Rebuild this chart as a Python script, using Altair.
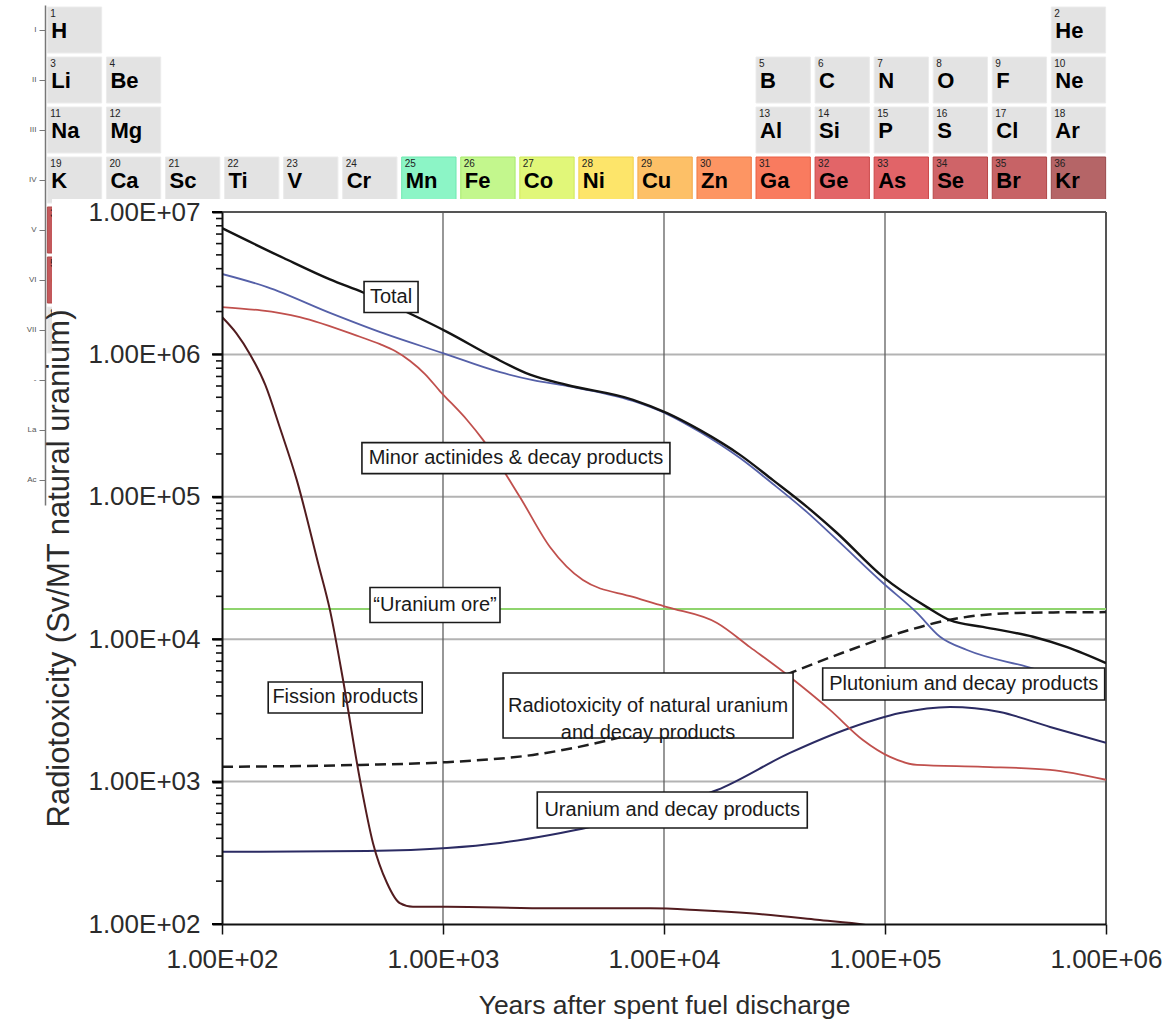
import altair as alt
import pandas as pd

FONT = "Liberation Sans"

# ---------------- radiotoxicity curves (years, Sv / MT natural uranium) ----------------
total_years = [100, 190, 308, 435, 731, 1042, 1683, 2477, 3640, 7244, 10330, 14550, 22080,
               31120, 44360, 60670, 97950, 154900, 196800, 277300, 467700, 666800, 1000000]
total_vals = [7.7e6, 4.75e6, 3.36e6, 2.72e6, 1.89e6, 1.44e6, 9.6e5, 7.2e5, 6.1e5, 4.8e5, 3.87e5,
              2.94e5, 1.97e5, 1.31e5, 8.5e4, 5.57e4, 2.74e4, 1.68e4, 1.36e4, 1.22e4, 1.04e4,
              8.8e3, 6.8e3]

pu_years = [100, 160, 310, 536, 1000, 1811, 2553, 3640, 7244, 10330, 14550, 22080, 31120,
            44360, 60670, 97950, 139600, 177400, 235000, 440000, 847000]
pu_vals = [3.67e6, 2.97e6, 1.95e6, 1.41e6, 1.02e6, 7.5e5, 6.6e5, 6.0e5, 4.71e5, 3.81e5, 2.85e5,
           1.87e5, 1.23e5, 7.8e4, 4.98e4, 2.48e4, 1.53e4, 1.04e4, 8.4e3, 6.4e3, 4.8e3]

ma_years = [100, 225, 421, 519, 607, 710, 829, 968, 1285, 1517, 2228, 3048, 4295, 7244, 10330,
            17380, 24490, 37150, 56360, 79430, 105400, 139600, 277300, 558500, 1000000]
ma_vals = [2.15e6, 1.83e6, 1.33e6, 1.18e6, 1.057e6, 9.0e5, 7.28e5, 5.53e5, 3.46e5, 2.51e5,
           9.97e4, 4.44e4, 2.6e4, 1.98e4, 1.68e4, 1.3e4, 8.8e3, 5.43e3, 3.19e3, 1.96e3, 1.49e3,
           1.31e3, 1.27e3, 1.21e3, 1.03e3]

fp_years = [100, 116, 134, 157, 183, 218, 272, 308, 353, 421, 482, 558, 638, 731, 1042, 3048,
            8650, 14550, 24490, 49200, 83000, 94800]
fp_vals = [1.83e6, 1.41e6, 1.0e6, 6.1e5, 3.04e5, 1.31e5, 3.43e4, 1.6e4, 5.17e3, 1.03e3, 371,
           194, 140, 132, 132, 129, 129, 125, 119, 107, 98, 94]

u_years = [100, 453, 1042, 1811, 3048, 4624, 8650, 17380, 37150, 69500, 117000, 197000, 331000,
           558500, 1000000]
u_vals = [321, 326, 342, 371, 422, 480, 632, 873, 1590, 2380, 3030, 3340, 3080, 2420, 1870]

nu_years = [100, 421, 1042, 2553, 6124, 14550, 38370, 69500, 117000, 197000, 396000, 1000000]
nu_vals = [1270, 1310, 1370, 1540, 2020, 3080, 5890, 8400, 11100, 13700, 15300, 15500]

uranium_ore = 16300

x_ticks = [100, 1000, 10000, 100000, 1000000]
y_major_ticks = [10 ** k for k in range(2, 8)]
y_minor_ticks = [m * 10 ** k for k in range(2, 7) for m in range(2, 10)]
grid_h_vals = [1e3, 1e4, 1e5, 1e6]
grid_v_vals = [1e3, 1e4, 1e5]

# annotation labels: text and anchor (year, value)
ann_labels = ["Total", "Minor actinides & decay products", "\u201cUranium ore\u201d",
              "Fission products", "Radiotoxicity of natural uranium\nand decay products",
              "Plutonium and decay products", "Uranium and decay products"]
ann_years = [582, 2138, 920, 361, 8470, 227000, 10900]
ann_vals = [2.53e6, 1.87e5, 1.74e4, 3.9e3, 3.42e3, 4.85e3, 632]
# box sizes in pixels (style)
ann_box = [(54, 31), (308, 31), (130, 35), (154, 31), (290, 65), (282, 32), (270, 36)]

# ---------------- periodic table overlay ----------------
periods = ["I", "II", "III", "IV", "V", "VI", "VII", "-", "La", "Ac"]
el_symbols = ["H", "He", "Li", "Be", "B", "C", "N", "O", "F", "Ne",
              "Na", "Mg", "Al", "Si", "P", "S", "Cl", "Ar",
              "K", "Ca", "Sc", "Ti", "V", "Cr", "Mn", "Fe", "Co", "Ni", "Cu", "Zn",
              "Ga", "Ge", "As", "Se", "Br", "Kr", "Rb", "Cs", "Fr"]
el_numbers = [1, 2, 3, 4, 5, 6, 7, 8, 9, 10, 11, 12, 13, 14, 15, 16, 17, 18,
              19, 20, 21, 22, 23, 24, 25, 26, 27, 28, 29, 30, 31, 32, 33, 34, 35, 36, 37, 55, 87]
el_cols = [1, 18, 1, 2, 13, 14, 15, 16, 17, 18, 1, 2, 13, 14, 15, 16, 17, 18,
           1, 2, 3, 4, 5, 6, 7, 8, 9, 10, 11, 12, 13, 14, 15, 16, 17, 18, 1, 1, 1]
el_periods = ["I", "I"] + ["II"] * 8 + ["III"] * 8 + ["IV"] * 18 + ["V", "VI", "VII"]

cell_colors = {
    "Mn": ("#8cf5c6", "#6fe8b0"), "Fe": ("#c3f78d", "#a8ea6c"), "Co": ("#e1f779", "#cfe85c"),
    "Ni": ("#fde56a", "#f2d04a"), "Cu": ("#fdc067", "#f3a84a"), "Zn": ("#fd9563", "#f07a45"),
    "Ga": ("#f97b5f", "#ea5f45"), "Ge": ("#e26568", "#cc4a4a"), "As": ("#e16468", "#cc4848"),
    "Se": ("#cf6468", "#b84848"), "Br": ("#c76366", "#b04848"), "Kr": ("#b56567", "#9a4a4c"),
    "Rb": ("#c3585b", "#b04848"), "Cs": ("#c3585b", "#b04848"),
}
GRAY_CELL = ("#e3e3e3", "#ececec")

pt_df = pd.DataFrame({
    "sym": el_symbols, "num": el_numbers, "col": el_cols, "period": el_periods,
    "fill": [cell_colors.get(s, GRAY_CELL)[0] for s in el_symbols],
    "edge": [cell_colors.get(s, GRAY_CELL)[1] for s in el_symbols],
})

px_scale = alt.Scale(type="band", domain=list(range(1, 19)), range=[-177, 886],
                     paddingInner=0.08, paddingOuter=0.04)
py_scale = alt.Scale(type="band", domain=periods, range=[-207, 293],
                     paddingInner=0.08, paddingOuter=0.04)
p_axis = alt.Axis(orient="left", offset=177, title=None, grid=False, labelAngle=0,
                  labelFont=FONT, labelFontSize=8, labelColor="#555", labelPadding=3,
                  tickColor="#777", tickSize=6, tickWidth=1, bandPosition=0.5,
                  domainColor="#777", domainWidth=1.5)

p_base = alt.Chart(pt_df)
p_rect = p_base.mark_rect(strokeWidth=1).encode(
    x=alt.X("col:O", scale=px_scale, axis=None),
    y=alt.Y("period:O", scale=py_scale, axis=p_axis),
    fill=alt.Fill("fill:N", scale=None),
    stroke=alt.Stroke("edge:N", scale=None),
)
p_num = p_base.mark_text(align="left", baseline="alphabetic", dx=3, dy=10, font=FONT,
                         fontSize=10, color="#222").encode(
    x=alt.X("col:O", scale=px_scale, axis=None, bandPosition=0),
    y=alt.Y("period:O", scale=py_scale, axis=p_axis, bandPosition=0),
    text="num:N",
)
p_sym = p_base.mark_text(align="left", baseline="alphabetic", dx=4, dy=31, font=FONT,
                         fontSize=22, fontWeight="bold", color="#000").encode(
    x=alt.X("col:O", scale=px_scale, axis=None, bandPosition=0),
    y=alt.Y("period:O", scale=py_scale, axis=p_axis, bandPosition=0),
    text="sym:N",
)
periodic = alt.layer(p_rect, p_num, p_sym)

# ---------------- main chart ----------------
xs = alt.Scale(type="log", domain=[100, 1000000], nice=False)
ys = alt.Scale(type="log", domain=[100, 10000000], nice=False)
x_axis = alt.Axis(orient="bottom", values=x_ticks, grid=False, zindex=1,
                  labelExpr="'1.00E+0' + round(log(datum.value)/LN10)",
                  labelFlush=False, labelOverlap=False, labelFont=FONT, labelFontSize=26,
                  labelColor="#2b2b2b", labelPadding=12, tickSize=10, tickColor="#111",
                  tickWidth=1.5, domainColor="#111", domainWidth=2,
                  title="Years after spent fuel discharge", titleFont=FONT, titleFontSize=26.5,
                  titleFontWeight="normal", titleColor="#2b2b2b", titlePadding=20)
y_axis = alt.Axis(orient="left", values=y_major_ticks, grid=False, zindex=1,
                  labelExpr="'1.00E+0' + round(log(datum.value)/LN10)",
                  labelOverlap=False, labelFont=FONT, labelFontSize=26,
                  labelColor="#2b2b2b", labelPadding=12, ticks=True, tickSize=10,
                  tickColor="#000", tickWidth=2, domainColor="#111", domainWidth=2,
                  title="Radiotoxicity (Sv/MT natural uranium)", titleFont=FONT,
                  titleFontSize=31, titleFontWeight="normal", titleColor="#2b2b2b",
                  titlePadding=12)

X = lambda: alt.X("year:Q", scale=xs, axis=x_axis)
Y = lambda: alt.Y("value:Q", scale=ys, axis=y_axis)

mask = alt.Chart(pd.DataFrame({"m": [0]})).mark_rect(color="white").encode(
    x=alt.value(-170), x2=alt.value(943), y=alt.value(-13), y2=alt.value(814))

# y-axis tick marks drawn from the tick value lists (major and minor)
ticks_major = alt.Chart(pd.DataFrame({"value": y_major_ticks})).mark_rule(
    color="#000", strokeWidth=2).encode(y=Y(), x=alt.value(-10), x2=alt.value(0))
ticks_minor = alt.Chart(pd.DataFrame({"value": y_minor_ticks})).mark_rule(
    color="#111", strokeWidth=1.6).encode(y=Y(), x=alt.value(-6), x2=alt.value(0))

grid_h = alt.Chart(pd.DataFrame({"value": grid_h_vals})).mark_rule(
    color="#b3b3b3", strokeWidth=2).encode(y=Y())
grid_v = alt.Chart(pd.DataFrame({"year": grid_v_vals})).mark_rule(
    color="#606060", strokeWidth=1.3).encode(x=X())
frame_top = alt.Chart(pd.DataFrame({"value": [1e7]})).mark_rule(
    color="#555", strokeWidth=2).encode(y=Y())
frame_right = alt.Chart(pd.DataFrame({"year": [1e6]})).mark_rule(
    color="#555", strokeWidth=2).encode(x=X())
ore = alt.Chart(pd.DataFrame({"value": [uranium_ore]})).mark_rule(
    color="#8fd46e", strokeWidth=2.2).encode(y=Y())


def curve(years, vals, color, width, dash=None):
    kw = dict(color=color, strokeWidth=width, interpolate="monotone", clip=True)
    if dash:
        kw["strokeDash"] = dash
    return alt.Chart(pd.DataFrame({"year": years, "value": vals})).mark_line(**kw).encode(
        x=X(), y=Y())


c_nat = curve(nu_years, nu_vals, "#1e1e1e", 2.5, [11, 6])
c_u = curve(u_years, u_vals, "#2b2b63", 2)
c_ma = curve(ma_years, ma_vals, "#c0504d", 1.8)
c_pu = curve(pu_years, pu_vals, "#5560a8", 1.8)
c_tot = curve(total_years, total_vals, "#141414", 2.4)
c_fp = curve(fp_years, fp_vals, "#521c1f", 2)

boxes = []
texts = []
for lab, yr, val, (w, h) in zip(ann_labels, ann_years, ann_vals, ann_box):
    d = pd.DataFrame({"year": [yr], "value": [val], "label": [lab]})
    boxes.append(alt.Chart(d).mark_rect(
        fill="white", stroke="#1a1a1a", strokeWidth=1.6,
        xOffset=-w / 2, x2Offset=w / 2, yOffset=-h / 2, y2Offset=h / 2).encode(
        x=X(), x2="year:Q", y=Y(), y2="value:Q"))
    texts.append(alt.Chart(d).mark_text(
        font=FONT, fontSize=20, color="#1a1a1a", align="center", baseline="middle",
        lineBreak="\n", lineHeight=27).encode(x=X(), y=Y(), text="label:N"))

main = alt.layer(mask, grid_h, grid_v, frame_top, frame_right, ore,
                 c_nat, c_u, c_ma, c_pu, c_tot, *boxes, *texts, c_fp,
                 ticks_major, ticks_minor)

chart = alt.layer(periodic, main).resolve_scale(
    x="independent", y="independent"
).properties(
    width=884, height=712,
    autosize=alt.AutoSizeParams(type="none"),
    padding={"left": 222, "top": 212, "right": 59, "bottom": 102},
    background="white",
).configure_view(stroke=None)

chart.save("out.html", embed_options={"renderer": "svg", "actions": False})
